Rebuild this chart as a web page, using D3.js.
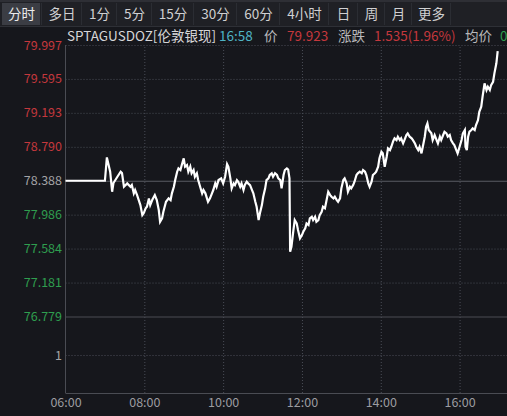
<!DOCTYPE html>
<html><head><meta charset="utf-8">
<script src="https://cdn.jsdelivr.net/npm/d3@7/dist/d3.min.js"></script>
<style>
html,body{margin:0;padding:0;background:#16171c;overflow:hidden}
svg{display:block}
text{font-family:"Noto Sans CJK SC","Noto Sans",sans-serif}
</style></head><body>
<svg id="c" width="507" height="416"></svg>
<script>
// ---- data ----
const tabs = ["分时","多日","1分","5分","15分","30分","60分","4小时","日","周","月","更多"];
const symbol = "SPTAGUSDOZ[伦敦银现]";
const quoteTime = "16:58";
const lastPrice = "79.923";
const change = "1.535(1.96%)";
const avgPrice = "0";
const prevClose = 78.388;
const priceTicks = [79.997, 79.595, 79.193, 78.790, 78.388, 77.986, 77.584, 77.181, 76.779];
const priceTickLabels = ["79.997","79.595","79.193","78.790","78.388","77.986","77.584","77.181","76.779"];
const volumeTicks = [1];
const timeTicks = [0, 120, 240, 360, 480, 600];           // minutes since 06:00
const timeTickLabels = ["06:00","08:00","10:00","12:00","14:00","16:00"];
// minutes since 06:00
const minutes = [0,60,63,68,71,73,79,84,86,89,94,99,101,104,106,109,114,117,119,122,124,127,129,132,136,139,142,144,147,149,153,157,160,162,165,167,170,172,175,177,180,182,185,187,190,192,195,197,200,202,205,208,210,213,217,220,223,225,228,230,233,237,240,243,246,248,251,253,256,258,261,263,266,268,271,273,276,278,281,284,286,289,291,294,296,299,301,304,306,309,311,314,316,319,322,324,327,329,332,334,337,339,341,342,344,347,349,352,354,357,360,362,365,367,370,372,375,377,380,382,385,387,390,392,395,397,400,403,405,408,410,413,415,418,420,423,425,428,430,433,435,438,440,443,445,448,451,453,456,458,461,463,466,468,471,473,476,478,481,483,486,489,491,494,496,499,501,504,506,509,511,514,516,519,521,524,527,529,532,534,537,539,542,544,547,549,551,553,557,559,562,565,567,570,572,575,577,580,582,585,587,590,592,595,597,600,603,605,608,609,611,613,615,618,620,623,625,628,630,633,635,638,641,643,646,648,651,653,656,658];
const prices = [78.388,78.388,78.665,78.495,78.258,78.361,78.435,78.495,78.479,78.317,78.357,78.317,78.337,78.239,78.278,78.218,78.100,77.981,78.002,78.061,78.080,78.179,78.100,78.159,78.218,78.159,78.041,77.902,77.942,78.021,78.139,78.179,78.159,78.239,78.317,78.396,78.495,78.535,78.515,78.574,78.654,78.554,78.574,78.495,78.554,78.476,78.515,78.435,78.476,78.396,78.317,78.239,78.278,78.239,78.139,78.179,78.239,78.278,78.357,78.317,78.396,78.416,78.357,78.435,78.586,78.554,78.416,78.298,78.357,78.337,78.396,78.376,78.317,78.357,78.278,78.337,78.376,78.357,78.337,78.278,78.239,78.139,78.080,77.922,78.002,78.100,78.198,78.298,78.396,78.416,78.456,78.476,78.435,78.476,78.456,78.416,78.396,78.298,78.456,78.515,78.535,78.521,78.416,77.546,77.606,77.804,77.922,77.883,77.804,77.705,77.744,77.783,77.824,77.883,77.863,77.942,77.961,77.922,77.961,77.902,77.922,77.981,78.021,78.080,78.061,78.139,78.258,78.218,78.198,78.179,78.198,78.159,78.139,78.179,78.298,78.396,78.416,78.357,78.258,78.317,78.298,78.337,78.376,78.456,78.476,78.495,78.476,78.515,78.495,78.456,78.357,78.317,78.376,78.456,78.476,78.495,78.554,78.654,78.732,78.713,78.554,78.672,78.772,78.752,78.791,78.859,78.891,78.870,78.910,78.870,78.891,78.831,78.870,78.930,78.950,78.910,78.891,78.870,78.831,78.791,78.752,78.791,78.713,78.791,78.910,79.028,79.068,78.989,78.950,78.870,78.930,78.870,78.831,78.910,78.870,78.930,78.969,78.950,78.910,78.930,78.870,78.831,78.811,78.752,78.713,78.791,78.870,78.950,78.989,78.791,78.752,78.910,78.969,78.989,79.009,78.989,79.048,79.107,79.206,79.265,79.384,79.542,79.463,79.502,79.463,79.522,79.561,79.661,79.780,79.923];

// ---- drawing ----
const W = 507, H = 416;
const svg = d3.select("#c");
const RED = "#c4383d", GREEN = "#2f9e4f", GRAY = "#a3a3a6", GRID = "#4a4d56";

// toolbar
svg.append("rect").attr("x",0).attr("y",0).attr("width",W).attr("height",26).attr("fill","#1f2025");
svg.append("rect").attr("x",0).attr("y",0).attr("width",W).attr("height",2).attr("fill","#2e2f35");
svg.append("line").attr("x1",0).attr("x2",W).attr("y1",26.5).attr("y2",26.5).attr("stroke","#2e3036");
const tabX = [0,41,81,116,151,193,236,279,328,357,384,411,450];
tabs.forEach((t,i)=>{
  const x0 = tabX[i], x1 = tabX[i+1];
  if(i===0) svg.append("rect").attr("x",2).attr("y",3).attr("width",x1-3).attr("height",22).attr("fill","#3b3d44");
  svg.append("line").attr("x1",x1+0.5).attr("x2",x1+0.5).attr("y1",3).attr("y2",25).attr("stroke","#2b2d33");
  svg.append("text").attr("x",(x0+x1)/2+1).attr("y",19).attr("text-anchor","middle")
    .attr("fill", i===0 ? "#ececec" : "#d0d0d2").attr("font-size",13.5).text(t);
});

// header
const hdr = svg.append("text").attr("y",41).attr("font-size",13.5);
const hdrParts = [[symbol,67,"#d6d6d8"],[quoteTime,219,"#4fb3c4"],["价",264,"#b8b8ba"],[lastPrice,287,RED],
  ["涨跌",338,"#b8b8ba"],[change,374,RED],["均价",465,"#b8b8ba"],[avgPrice,500,GREEN]];
hdrParts.forEach(([t,px,c])=>hdr.append("tspan").attr("x",px).attr("fill",c).text(t));

// scales
const x = d3.scaleLinear().domain([0,660]).range([65.5, 499]);
const y = d3.scaleLinear().domain([76.779, 79.997]).range([316.5, 45]);
const yv = d3.scaleLinear().domain([0, 2]).range([393, 317]);
const plotL = 65.5, plotR = W, plotB = 393;

// horizontal grid (price)
svg.append("g").attr("transform",`translate(${plotL},0)`)
  .call(d3.axisRight(y).tickValues(priceTicks).tickSize(plotR-plotL).tickFormat(""))
  .call(g=>g.select(".domain").remove())
  .call(g=>g.selectAll(".tick line")
    .attr("stroke",d=> d===prevClose ? "#5a5c63" : (d===76.779 ? "#4a4c53" : GRID))
    .attr("stroke-dasharray",d=> (d===prevClose||d===76.779) ? null : "1,2"));
// volume grid
svg.append("g").attr("transform",`translate(${plotL},0)`)
  .call(d3.axisRight(yv).tickValues(volumeTicks).tickSize(plotR-plotL).tickFormat(""))
  .call(g=>g.select(".domain").remove())
  .call(g=>g.selectAll(".tick line").attr("stroke",GRID).attr("stroke-dasharray","1,2"));
// vertical grid
svg.append("g").attr("transform",`translate(0,${plotB})`)
  .call(d3.axisTop(x).tickValues(timeTicks.slice(1)).tickSize(plotB-45).tickFormat(""))
  .call(g=>g.select(".domain").remove())
  .call(g=>g.selectAll(".tick line").attr("stroke",GRID).attr("stroke-dasharray","1,2"));

// axis frame
svg.append("line").attr("x1",plotL).attr("x2",plotL).attr("y1",45).attr("y2",plotB).attr("stroke","#4a4c53");
svg.append("line").attr("x1",plotL).attr("x2",plotR).attr("y1",plotB+0.5).attr("y2",plotB+0.5).attr("stroke","#4a4c53");

// y labels
svg.append("g").attr("transform",`translate(62,0)`)
  .call(d3.axisLeft(y).tickValues(priceTicks).tickSize(0).tickPadding(0)
    .tickFormat((d,i)=>priceTickLabels[i]))
  .call(g=>g.select(".domain").remove())
  .call(g=>g.selectAll("text").attr("font-family","'Noto Sans',sans-serif").attr("font-size",12.5)
    .attr("fill",d=> d>prevClose ? RED : (d<prevClose ? GREEN : GRAY)));
svg.append("g").attr("transform",`translate(62,0)`)
  .call(d3.axisLeft(yv).tickValues(volumeTicks).tickSize(0).tickPadding(0).tickFormat(d3.format("d")))
  .call(g=>g.select(".domain").remove())
  .call(g=>g.selectAll("text").attr("font-family","'Noto Sans',sans-serif").attr("font-size",12.5).attr("fill",GRAY));

// x labels
svg.append("g").attr("transform",`translate(0,${plotB})`)
  .call(d3.axisBottom(x).tickValues(timeTicks).tickSize(0).tickPadding(5)
    .tickFormat((d,i)=>timeTickLabels[i]))
  .call(g=>g.select(".domain").remove())
  .call(g=>g.selectAll("text").attr("font-family","'Noto Sans',sans-serif").attr("font-size",12.5).attr("fill","#9c9ca0"));

// price line
const data = minutes.map((m,i)=>({m, p:prices[i]}));
svg.append("path").datum(data)
  .attr("fill","none").attr("stroke","#ffffff").attr("stroke-width",2.2).attr("stroke-linejoin","miter")
  .attr("d", d3.line().x(d=>x(d.m)).y(d=>y(d.p)));
</script>
</body></html>
